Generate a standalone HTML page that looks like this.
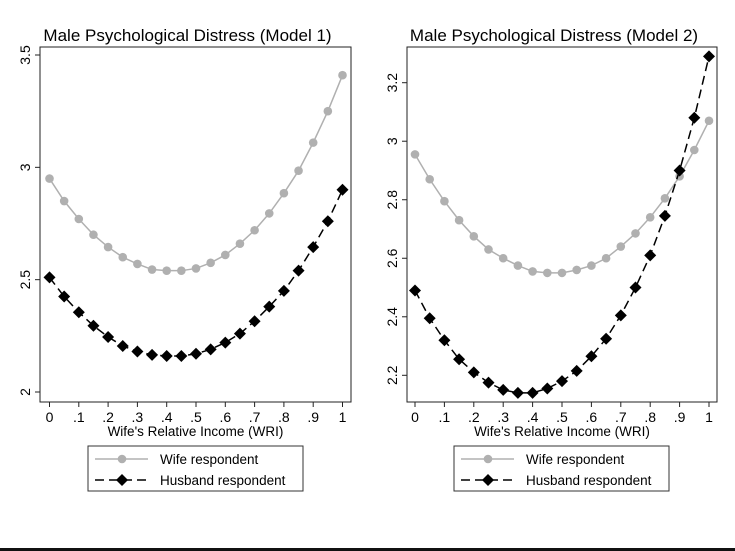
<!DOCTYPE html>
<html><head><meta charset="utf-8"><style>
body{margin:0;background:#fff;}
svg{display:block;font-family:"Liberation Sans",Arial,sans-serif;}
</style></head><body>
<svg id="c" width="735" height="551" viewBox="0 0 735 551">
<rect x="0" y="0" width="735" height="551" fill="#fff"/>
<rect x="0" y="548" width="735" height="3" fill="#111"/>
</svg>
<script>
const xCats=[0,.05,.1,.15,.2,.25,.3,.35,.4,.45,.5,.55,.6,.65,.7,.75,.8,.85,.9,.95,1];
const xTicks=[0,.1,.2,.3,.4,.5,.6,.7,.8,.9,1];
const xTickLabels=["0",".1",".2",".3",".4",".5",".6",".7",".8",".9","1"];
const wife1=[2.95,2.85,2.77,2.70,2.645,2.60,2.57,2.545,2.54,2.54,2.55,2.575,2.61,2.66,2.72,2.795,2.885,2.985,3.11,3.25,3.41];
const husb1=[2.51,2.425,2.355,2.295,2.245,2.205,2.18,2.165,2.16,2.16,2.17,2.19,2.22,2.26,2.315,2.38,2.45,2.54,2.645,2.76,2.90];
const wife2=[2.955,2.87,2.795,2.73,2.675,2.63,2.6,2.575,2.555,2.55,2.55,2.56,2.575,2.60,2.64,2.685,2.74,2.805,2.88,2.97,3.07];
const husb2=[2.49,2.395,2.32,2.255,2.21,2.175,2.15,2.14,2.14,2.155,2.18,2.215,2.265,2.325,2.405,2.5,2.61,2.745,2.9,3.08,3.29];
const yTicks1=[2,2.5,3,3.5];
const yTickLabels1=["2","2.5","3","3.5"];
const yTicks2=[2.2,2.4,2.6,2.8,3,3.2];
const yTickLabels2=["2.2","2.4","2.6","2.8","3","3.2"];

const NS="http://www.w3.org/2000/svg";
const svg=document.getElementById('c');
function mk(tag,attrs,parent){const e=document.createElementNS(NS,tag);for(const k in attrs)e.setAttribute(k,attrs[k]);(parent||svg).appendChild(e);return e;}

function panel(o){
  const g=mk('g',{});
  
  
  const sx=v=>o.x0+(o.x1-o.x0)*v;
  const sy=v=>o.yA+(v-o.vA)*(o.yB-o.yA)/(o.vB-o.vA);
  const t=mk('text',{x:(o.bl+o.br)/2-8,y:41,'text-anchor':'middle','font-size':17,fill:'#000'},g);
  t.textContent=o.title;
  
  
  const box=mk('rect',{x:o.bl,y:47,width:o.br-o.bl,height:355,fill:'none',stroke:'#222','stroke-width':1},g);
  
  
  o.yt.forEach((v,i)=>{
    const y=sy(v);
    mk('line',{x1:o.bl-5,x2:o.bl,y1:y,y2:y,stroke:'#222'},g);
    const l=mk('text',{x:0,y:0,'text-anchor':'middle','font-size':14,transform:`translate(${o.bl-10},${y}) rotate(-90)`},g);
    l.textContent=o.yl[i];
    
    
  });
  xTicks.forEach((v,i)=>{
    const x=sx(v);
    mk('line',{x1:x,x2:x,y1:402,y2:407,stroke:'#222'},g);
    const l=mk('text',{x:x,y:422,'text-anchor':'middle','font-size':14},g);
    l.textContent=xTickLabels[i];
    
    
  });
  const at=mk('text',{x:(o.bl+o.br)/2,y:436,'text-anchor':'middle','font-size':13.5},g);
  at.textContent="Wife's Relative Income (WRI)";
  
  
  const wp=xCats.map((c,i)=>sx(c)+','+sy(o.w[i])).join(' ');
  const wl=mk('polyline',{points:wp,fill:'none',stroke:'#b0b0b0','stroke-width':1.5},g);
  
  
  xCats.forEach((c,i)=>{
    const p=mk('circle',{cx:sx(c),cy:sy(o.w[i]),r:4.3,fill:'#b0b0b0'},g);
    
    
  });
  const hp=xCats.map((c,i)=>sx(c)+','+sy(o.h[i])).join(' ');
  const hl=mk('polyline',{points:hp,fill:'none',stroke:'#000','stroke-width':1.5,'stroke-dasharray':'9,5'},g);
  
  
  xCats.forEach((c,i)=>{
    const x=sx(c),y=sy(o.h[i]);
    const p=mk('polygon',{points:`${x},${y-6} ${x+6},${y} ${x},${y+6} ${x-6},${y}`,fill:'#000'},g);
    
    
  });
  const lg=mk('g',{},g);
  
  
  const L=o.lx;
  mk('rect',{x:L,y:446,width:215,height:45,fill:'#fff',stroke:'#333','stroke-width':1},lg);
  mk('line',{x1:L+7,x2:L+60,y1:459,y2:459,stroke:'#b0b0b0','stroke-width':1.5},lg);
  mk('circle',{cx:L+34,cy:459,r:4.3,fill:'#b0b0b0'},lg);
  const t1=mk('text',{x:L+72,y:464,'font-size':13.5},lg);t1.textContent='Wife respondent';
  
  
  mk('line',{x1:L+7,x2:L+60,y1:480,y2:480,stroke:'#000','stroke-width':1.5,'stroke-dasharray':'9,5'},lg);
  mk('polygon',{points:`${L+34},${474} ${L+40},${480} ${L+34},${486} ${L+28},${480}`,fill:'#000'},lg);
  const t2=mk('text',{x:L+72,y:485,'font-size':13.5},lg);t2.textContent='Husband respondent';
  
  
}
panel({name:'panel-model-1',title:'Male Psychological Distress (Model 1)',bl:40,br:351,x0:49.5,x1:342.5,yA:392,vA:2,yB:55,vB:3.5,yt:yTicks1,yl:yTickLabels1,w:wife1,h:husb1,lx:88});
panel({name:'panel-model-2',title:'Male Psychological Distress (Model 2)',bl:407,br:717,x0:415,x1:709,yA:375.3,vA:2.2,yB:82.7,vB:3.2,yt:yTicks2,yl:yTickLabels2,w:wife2,h:husb2,lx:454});
</script>
</body></html>
